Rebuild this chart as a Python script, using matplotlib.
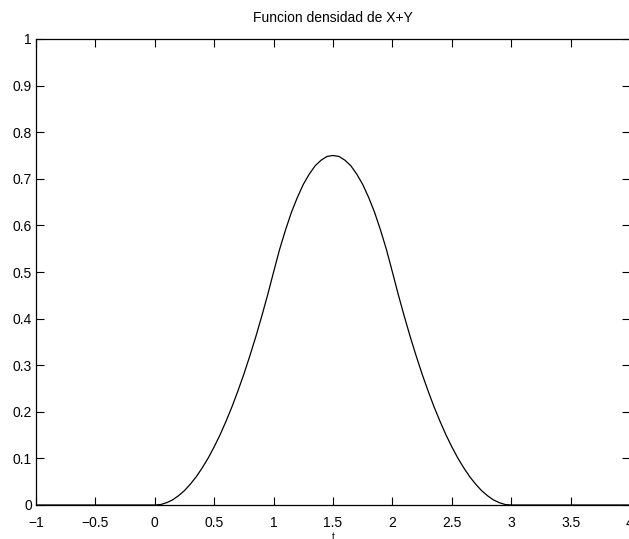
import matplotlib
matplotlib.use("Agg")
import matplotlib.pyplot as plt

plt.rcParams['font.family'] = ['Liberation Sans', 'DejaVu Sans']

t_vals = [-1.0, -0.5, 0.0,
          0.05, 0.10, 0.15, 0.20, 0.25, 0.30, 0.35, 0.40, 0.45, 0.50,
          0.55, 0.60, 0.65, 0.70, 0.75, 0.80, 0.85, 0.90, 0.95, 1.00,
          1.05, 1.10, 1.15, 1.20, 1.25, 1.30, 1.35, 1.40, 1.45, 1.50,
          1.55, 1.60, 1.65, 1.70, 1.75, 1.80, 1.85, 1.90, 1.95, 2.00,
          2.05, 2.10, 2.15, 2.20, 2.25, 2.30, 2.35, 2.40, 2.45, 2.50,
          2.55, 2.60, 2.65, 2.70, 2.75, 2.80, 2.85, 2.90, 2.95, 3.00,
          3.5, 4.0]
density = [0.0, 0.0, 0.0,
           0.001, 0.005, 0.011, 0.020, 0.031, 0.045, 0.061, 0.080, 0.101, 0.125,
           0.151, 0.180, 0.211, 0.245, 0.281, 0.320, 0.361, 0.405, 0.451, 0.500,
           0.548, 0.590, 0.628, 0.660, 0.688, 0.710, 0.728, 0.740, 0.748, 0.750,
           0.748, 0.740, 0.728, 0.710, 0.688, 0.660, 0.628, 0.590, 0.548, 0.500,
           0.451, 0.405, 0.361, 0.320, 0.281, 0.245, 0.211, 0.180, 0.151, 0.125,
           0.101, 0.080, 0.061, 0.045, 0.031, 0.020, 0.011, 0.005, 0.001, 0.0,
           0.0, 0.0]
x_ticks = [-1, -0.5, 0, 0.5, 1, 1.5, 2, 2.5, 3, 3.5, 4]
x_tick_labels = ['\u22121', '\u22120.5', '0', '0.5', '1', '1.5', '2', '2.5', '3', '3.5', '4']
y_ticks = [0, 0.1, 0.2, 0.3, 0.4, 0.5, 0.6, 0.7, 0.8, 0.9, 1]
y_tick_labels = ['0', '0.1', '0.2', '0.3', '0.4', '0.5', '0.6', '0.7', '0.8', '0.9', '1']

fig = plt.figure(figsize=(6.29, 5.39), dpi=100)
ax = fig.add_axes([36 / 629, 1 - 505 / 539, 594 / 629, 466 / 539])

ax.plot(t_vals, density, color='black', linewidth=0.9)

ax.set_xlim(-1, 4)
ax.set_ylim(0, 1)
ax.set_xticks(x_ticks)
ax.set_xticklabels(x_tick_labels)
ax.set_yticks(y_ticks)
ax.set_yticklabels(y_tick_labels)
ax.tick_params(direction='in', length=6, width=0.8, top=True, right=True,
               labelsize=10)
ax.tick_params(axis='x', pad=8)
ax.tick_params(axis='y', pad=3)
for s in ax.spines.values():
    s.set_linewidth(0.9)
ax.set_title('Funcion densidad de X+Y', fontsize=10, pad=12)
ax.set_xlabel('t', fontsize=7, labelpad=1)

fig.savefig('out.png', dpi=100)
